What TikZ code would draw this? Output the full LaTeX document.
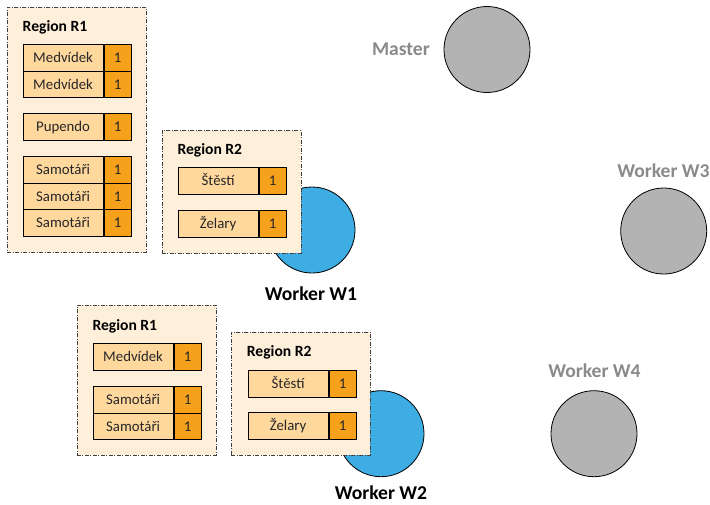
\documentclass[tikz,border=0pt]{standalone}
\usepackage{fontspec}
\setmainfont{Carlito}
\definecolor{regionfill}{HTML}{FDEFDA}
\definecolor{cellfill}{HTML}{FFD89E}
\definecolor{valfill}{HTML}{F6A11C}
\definecolor{wblue}{HTML}{3DADE3}
\definecolor{wgray}{HTML}{B3B3B3}
\definecolor{lblgray}{HTML}{8A8A8A}
\definecolor{celltext}{HTML}{262626}
\tikzset{
  region/.style={draw=black!75, fill=regionfill, line width=0.8pt,
    dash pattern=on 4pt off 1.5pt on 1pt off 1.5pt,
    anchor=north west, inner sep=0pt},
  keycell/.style={draw=black, fill=cellfill, line width=0.8pt, anchor=north west,
    minimum width=80pt, minimum height=26.7pt, inner sep=0pt, text=celltext,
    font=\fontsize{14.8}{17}\selectfont, text height=10.5pt, text depth=1pt},
  valcell/.style={draw=black, fill=valfill, line width=0.8pt, anchor=north west,
    minimum width=27.3pt, minimum height=26.7pt, inner sep=0pt, text=celltext,
    font=\fontsize{14.8}{17}\selectfont, text height=10.5pt, text depth=1pt},
  rtitle/.style={anchor=base west, inner sep=0pt, font=\bfseries\fontsize{15.6}{18}\selectfont},
  wlabel/.style={anchor=base, inner sep=0pt, font=\bfseries\fontsize{19.6}{23}\selectfont},
  worker/.style={circle, draw=black, line width=0.8pt, minimum size=86pt, inner sep=0pt},
}
\newcommand{\kvpair}[4]{%
  \node[keycell] (#1k) at (#2,#3) {#4};
  \node[valcell] (#1v) at (#1k.north east) {1};}
\begin{document}
\begin{tikzpicture}[x=1pt,y=-1pt]
\useasboundingbox (0,0) rectangle (710,504);
% workers
\node[worker, fill=wgray] (master) at (487,49.5) {};
\node[wlabel, text=lblgray, anchor=base east] (masterlbl) at (430,55.5) {Master};
\node[worker, fill=wgray] (w3) at (663.7,231) {};
\node[wlabel, text=lblgray] (w3lbl) at (663.5,177) {Worker W3};
\node[worker, fill=wgray] (w4) at (594,433.7) {};
\node[wlabel, text=lblgray] (w4lbl) at (594.5,377.7) {Worker W4};
\node[worker, fill=wblue] (w1) at (312,230) {};
\node[wlabel] (w1lbl) at (311,300.7) {Worker W1};
\node[worker, fill=wblue] (w2) at (381,433.7) {};
\node[wlabel] (w2lbl) at (381,499.6) {Worker W2};
% region R1 (W1)
\node[region, minimum width=139pt, minimum height=245pt] (ra) at (7,7) {};
\node[rtitle] (ratitle) at (22.5,31) {Region R1};
\kvpair{a1}{22.7}{44}{Medvídek}
\kvpair{a2}{22.7}{70.7}{Medvídek}
\kvpair{a3}{22.7}{113.3}{Pupendo}
\kvpair{a4}{22.7}{156}{Samotáři}
\kvpair{a5}{22.7}{182.7}{Samotáři}
\kvpair{a6}{22.7}{209.3}{Samotáři}
% region R2 (W1)
\node[region, minimum width=139pt, minimum height=122.5pt] (rb) at (161.5,130) {};
\node[rtitle] (rbtitle) at (177.3,154.3) {Region R2};
\kvpair{b1}{177.7}{167.3}{Štěstí}
\kvpair{b2}{177.7}{210}{Želary}
% region R1 (W2)
\node[region, minimum width=139pt, minimum height=150pt] (rc) at (76.5,305) {};
\node[rtitle] (rctitle) at (92.3,330.7) {Region R1};
\kvpair{c1}{92.7}{343.3}{Medvídek}
\kvpair{c2}{92.7}{386}{Samotáři}
\kvpair{c3}{92.7}{412.7}{Samotáři}
% region R2 (W2)
\node[region, minimum width=139pt, minimum height=123pt] (rd) at (231,331.5) {};
\node[rtitle] (rdtitle) at (246.7,356) {Region R2};
\kvpair{d1}{247.7}{370}{Štěstí}
\kvpair{d2}{247.7}{412.3}{Želary}
\end{tikzpicture}
\end{document}
